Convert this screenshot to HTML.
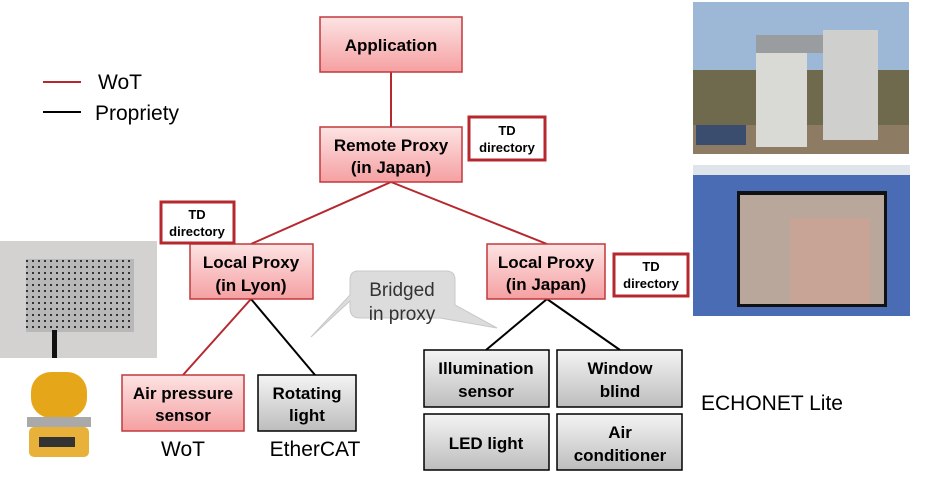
<!DOCTYPE html>
<html><head><meta charset="utf-8"><style>
html,body{margin:0;padding:0;background:#fff;width:927px;height:484px;overflow:hidden}
svg{display:block}
text{font-family:"Liberation Sans",sans-serif}
.b{font-weight:bold;font-size:17px;fill:#000;text-anchor:middle}
.t{font-weight:bold;font-size:13px;fill:#000;text-anchor:middle}
.n{font-size:21px;fill:#000}
</style></head><body>
<svg width="927" height="484" viewBox="0 0 927 484" xmlns="http://www.w3.org/2000/svg">
<defs>
<linearGradient id="pk" x1="0" y1="0" x2="0" y2="1"><stop offset="0" stop-color="#fde3e3"/><stop offset="1" stop-color="#f5a0a2"/></linearGradient>
<linearGradient id="gr" x1="0" y1="0" x2="0" y2="1"><stop offset="0" stop-color="#f4f4f4"/><stop offset="1" stop-color="#bdbdbd"/></linearGradient>
<pattern id="holes" width="6" height="6" patternUnits="userSpaceOnUse"><rect width="6" height="6" fill="#b8b8b8"/><rect x="2" y="2" width="2" height="2" fill="#333"/></pattern>
</defs>
<!-- legend -->
<line x1="43" y1="82" x2="81" y2="82" stroke="#b5292e" stroke-width="2"/>
<line x1="43" y1="112" x2="81" y2="112" stroke="#000" stroke-width="2"/>
<text class="n" x="98" y="89">WoT</text>
<text class="n" x="95" y="120">Propriety</text>
<!-- connectors -->
<g stroke="#b5292e" stroke-width="2" fill="none">
<line x1="391" y1="72" x2="391" y2="127"/>
<line x1="391" y1="182" x2="251" y2="244"/>
<line x1="391" y1="182" x2="547" y2="244"/>
<line x1="251" y1="299" x2="183" y2="375"/>
</g>
<g stroke="#000" stroke-width="2" fill="none">
<line x1="251" y1="299" x2="315" y2="375"/>
<line x1="547" y1="299" x2="486" y2="350"/>
<line x1="547" y1="299" x2="620" y2="350"/>
</g>
<!-- bubble -->
<path d="M358,271 H446 Q455,271 455,280 V305 L497,328 L440,318 H360 Q350,318 350,308 V301 L311,337 L350,295 V280 Q350,271 358,271 Z" fill="#dcdcdc" stroke="#c8c8c8" stroke-width="1"/>
<text x="402" y="296" font-size="19" text-anchor="middle" fill="#333">Bridged</text>
<text x="402" y="320" font-size="19" text-anchor="middle" fill="#333">in proxy</text>
<!-- pink boxes -->
<g fill="url(#pk)" stroke="#c0393d" stroke-width="1.5">
<rect x="320" y="17" width="142" height="55"/>
<rect x="320" y="127" width="142" height="55"/>
<rect x="190" y="244" width="123" height="55"/>
<rect x="487" y="244" width="118" height="55"/>
<rect x="122" y="375" width="122" height="56"/>
</g>
<text class="b" x="391" y="51">Application</text>
<text class="b" x="391" y="151">Remote Proxy</text>
<text class="b" x="391" y="173">(in Japan)</text>
<text class="b" x="251" y="268">Local Proxy</text>
<text class="b" x="251" y="291">(in Lyon)</text>
<text class="b" x="546" y="268">Local Proxy</text>
<text class="b" x="546" y="290">(in Japan)</text>
<text class="b" x="183" y="399">Air pressure</text>
<text class="b" x="183" y="421">sensor</text>
<!-- gray boxes -->
<g fill="url(#gr)" stroke="#000" stroke-width="1.5">
<rect x="258" y="375" width="98" height="56"/>
<rect x="424" y="350" width="125" height="57"/>
<rect x="557" y="350" width="125" height="57"/>
<rect x="424" y="414" width="125" height="56"/>
<rect x="557" y="414" width="125" height="56"/>
</g>
<text class="b" x="307" y="399">Rotating</text>
<text class="b" x="307" y="421">light</text>
<text class="b" x="486" y="374">Illumination</text>
<text class="b" x="486" y="397">sensor</text>
<text class="b" x="620" y="374">Window</text>
<text class="b" x="620" y="397">blind</text>
<text class="b" x="486" y="449">LED light</text>
<text class="b" x="620" y="438">Air</text>
<text class="b" x="620" y="461">conditioner</text>
<!-- TD directories -->
<g fill="#fff" stroke="#b5292e" stroke-width="3">
<rect x="469" y="117" width="76" height="43"/>
<rect x="161" y="202" width="73" height="41"/>
<rect x="614" y="254" width="74" height="42"/>
</g>
<text class="t" x="507" y="135">TD</text><text class="t" x="507" y="152">directory</text>
<text class="t" x="197" y="219">TD</text><text class="t" x="197" y="236">directory</text>
<text class="t" x="651" y="271">TD</text><text class="t" x="651" y="288">directory</text>
<!-- bottom labels -->
<text class="n" x="183" y="456" text-anchor="middle">WoT</text>
<text class="n" x="315" y="456" text-anchor="middle">EtherCAT</text>
<text class="n" x="772" y="410" text-anchor="middle">ECHONET Lite</text>
<!-- photo: building -->
<rect x="693" y="2" width="216" height="152" fill="#9cb8d6"/>
<rect x="693" y="70" width="216" height="84" fill="#6f6a4e"/>
<rect x="693" y="125" width="216" height="29" fill="#8d7b63"/>
<rect x="756" y="37" width="51" height="110" fill="#d9d9d6"/>
<rect x="756" y="35" width="70" height="18" fill="#9a9d9f"/>
<rect x="823" y="30" width="55" height="110" fill="#cfd0ce"/>
<rect x="696" y="125" width="50" height="20" fill="#3b4d6e"/>
<!-- photo: screenshot -->
<rect x="693" y="165" width="217" height="151" fill="#4a6cb5"/>
<rect x="693" y="165" width="217" height="10" fill="#dfe3ea"/>
<rect x="737" y="191" width="150" height="116" fill="#111"/>
<rect x="740" y="195" width="144" height="109" fill="#b8a79a"/>
<rect x="790" y="218" width="80" height="86" fill="#c8a496"/>
<!-- photo: speaker -->
<rect x="0" y="241" width="157" height="117" fill="#d4d2d0"/>
<rect x="26" y="259" width="108" height="73" fill="url(#holes)"/>
<rect x="52" y="330" width="5" height="28" fill="#111"/>
<!-- photo: lamp -->
<rect x="31" y="372" width="56" height="46" rx="20" fill="#e6a619"/>
<rect x="27" y="417" width="64" height="10" fill="#a9a9a9"/>
<rect x="29" y="427" width="60" height="30" rx="5" fill="#e7b13a"/>
<rect x="39" y="437" width="36" height="10" fill="#333"/>
</svg>
</body></html>
